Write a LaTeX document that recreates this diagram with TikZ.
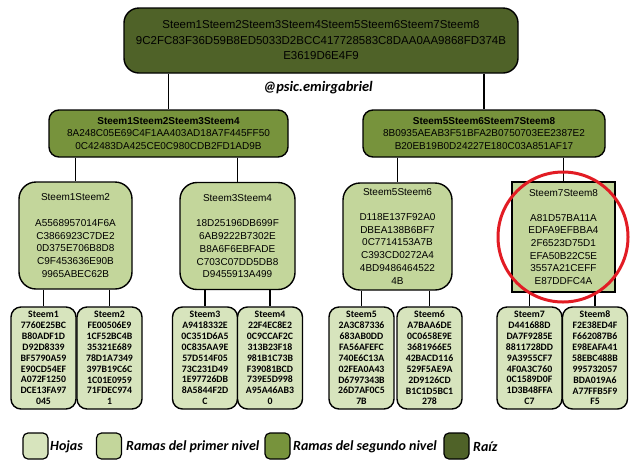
\documentclass[tikz,border=0pt]{standalone}
\usepackage{fontspec}
\setmainfont{Liberation Sans}
\newfontfamily\cali{Carlito}
\definecolor{cRoot}{RGB}{79,98,40}
\definecolor{cLtwo}{RGB}{119,147,60}
\definecolor{cLone}{RGB}{195,214,155}
\definecolor{cLeaf}{RGB}{215,228,189}
\definecolor{cRed}{RGB}{226,28,36}
\tikzset{
  box/.style={draw=black, line width=1.4pt, align=center, inner sep=0pt, text=black},
  rootbox/.style={box, fill=cRoot, rounded corners=15pt, minimum width=394pt, minimum height=65pt, font=\fontsize{11.5}{15.5}\selectfont},
  ltwobox/.style={box, fill=cLtwo, rounded corners=10pt, minimum height=47pt, font=\fontsize{10}{12.5}\selectfont},
  lonebox/.style={box, fill=cLone, rounded corners=17pt, minimum height=107pt, font=\fontsize{10}{12.7}\selectfont},
  leafbox/.style={box, fill=cLeaf, rounded corners=10pt, minimum width=65pt, minimum height=102pt, font=\cali\bfseries\fontsize{9.8}{10.9}\selectfont},
  conn/.style={draw=black, line width=1.4pt},
  legbox/.style={draw=black, line width=1.2pt, rounded corners=5pt, minimum width=25pt, minimum height=26pt, inner sep=0pt},
  legtext/.style={anchor=west, inner sep=0pt, font=\cali\bfseries\itshape\fontsize{14}{16}\selectfont}
}
\begin{document}
\begin{tikzpicture}[x=1pt,y=-1pt]
\fill[white] (0,0) rectangle (640,475);
\useasboundingbox (0,0) rectangle (640,475);

\node[rootbox] (root) at (321,40.5) {Steem1Steem2Steem3Steem4Steem5Steem6Steem7Steem8\\9C2FC83F36D59B8ED5033D2BCC417728583C8DAA0AA9868FD374B\\E3619D6E4F9};

\node[font=\cali\bfseries\itshape\fontsize{14.5}{16}\selectfont, inner sep=0pt] (author) at (318,88) {@psic.emirgabriel};

\node[ltwobox, minimum width=239pt] (la) at (168.5,133.5) {\textbf{Steem1Steem2Steem3Steem4}\\8A248C05E69C4F1AA403AD18A7F445FF50\\0C42483DA425CE0C980CDB2FD1AD9B};
\node[ltwobox, minimum width=242pt] (lb) at (484,133.5) {\textbf{Steem5Steem6Steem7Steem8}\\8B0935AEAB3F51BFA2B0750703EE2387E2\\B20EB19B0D24227E180C03A851AF17};

\node[lonebox, minimum width=113pt] (ma) at (75.5,235.5) {Steem1Steem2\\[13pt]A5568957014F6A\\C3866923C7DE2\\0D375E706B8D8\\C9F453636E90B\\9965ABEC62B};
\node[lonebox, minimum width=115pt] (mb) at (237.5,236) {Steem3Steem4\\[13pt]18D25196DB699F\\6AB9222B7302E\\B8A6F6EBFADE\\C703C07DD5DB8\\D9455913A499};
\node[lonebox, minimum width=109pt] (mc) at (397.5,236.5) {Steem5Steem6\\[12pt]D118E137F92A0\\DBEA138B6BF7\\0C7714153A7B\\C393CD0272A4\\4BD9486464522\\4B};
\node[lonebox, rounded corners=0pt, minimum width=103pt, minimum height=110pt] (md) at (563.5,237) {Steem7Steem8\\[12pt]A81D57BA11A\\EDFA9EFBBA4\\2F6523D75D1\\EFA50B22C5E\\3557A21CEFF\\E87DDFC4A};

\node[leafbox] (s1) at (43.5,358) {Steem1\\7760E25BC\\B80ADF1D\\D92D8339\\BF5790A59\\E90CD54EF\\A072F1250\\DCE13FA97\\045};
\node[leafbox] (s2) at (109.5,358) {Steem2\\FE00506E9\\1CF52BC4B\\35321E689\\78D1A7349\\397B19C6C\\1C01E0959\\71FDEC974\\1};
\node[leafbox] (s3) at (205,358) {Steem3\\A9418332E\\0C351D6A5\\0C835AA9E\\57D514F05\\73C231D49\\1E97726DB\\8A5844F2D\\C};
\node[leafbox] (s4) at (270,358) {Steem4\\22F4EC8E2\\0C9CCAF2C\\313B23F18\\981B1C73B\\F39081BCD\\739E5D998\\A95A46AB3\\0};
\node[leafbox] (s5) at (361.5,358) {Steem5\\2A3C87336\\683AB0DD\\FA56AFEFC\\740E6C13A\\02FEA0A43\\D6797343B\\26D7AF0C5\\7B};
\node[leafbox] (s6) at (429.5,358) {Steem6\\A7BAA6DE\\0C0658E9E\\3681966E5\\42BACD116\\529F5AE9A\\2D9126CD\\B1C1D5BC1\\278};
\node[leafbox] (s7) at (529.5,358) {Steem7\\D441688D\\DA7F9285E\\8811728DD\\9A3955CF7\\4F0A3C760\\0C1589D0F\\1D3B48FFA\\C7};
\node[leafbox] (s8) at (595,358) {Steem8\\F2E38ED4F\\F662087B6\\E98EAFA41\\58EBC488B\\995732057\\BDA019A6\\A77FFB5F9\\F5};

\draw[conn] (root.south -| la.north) -- (la.north);
\draw[conn] (root.south -| lb.north) -- (lb.north);
\draw[conn] (la.south -| ma.north) -- (ma.north);
\draw[conn] (la.south -| mb.north) -- (mb.north);
\draw[conn] (lb.south -| mc.north) -- (mc.north);
\draw[conn] (lb.south -| md.north) -- (md.north);
\draw[conn] (ma.south -| s1.north) -- (s1.north);
\draw[conn] (ma.south -| s2.north) -- (s2.north);
\draw[conn] (mb.south -| s3.north) -- (s3.north);
\draw[conn] (mb.south -| s4.north) -- (s4.north);
\draw[conn] (mc.south -| s5.north) -- (s5.north);
\draw[conn] (mc.south -| s6.north) -- (s6.north);
\draw[conn] (md.south -| s7.north) -- (s7.north);
\draw[conn] (md.south -| s8.north) -- (s8.north);

\draw[cRed, line width=3pt] (563,237) circle (65pt);

\node[legbox, fill=cLeaf] (g1) at (35.5,446) {};
\node[legtext] (t1) at (50,447) {Hojas};
\node[legbox, fill=cLone] (g2) at (109,446) {};
\node[legtext] (t2) at (126,447) {Ramas del primer nivel};
\node[legbox, fill=cLtwo] (g3) at (277.5,446) {};
\node[legtext] (t3) at (293,447) {Ramas del segundo nivel};
\node[legbox, fill=cRoot] (g4) at (456.5,446) {};
\node[legtext] (t4) at (473,447) {Raíz};
\end{tikzpicture}
\end{document}
